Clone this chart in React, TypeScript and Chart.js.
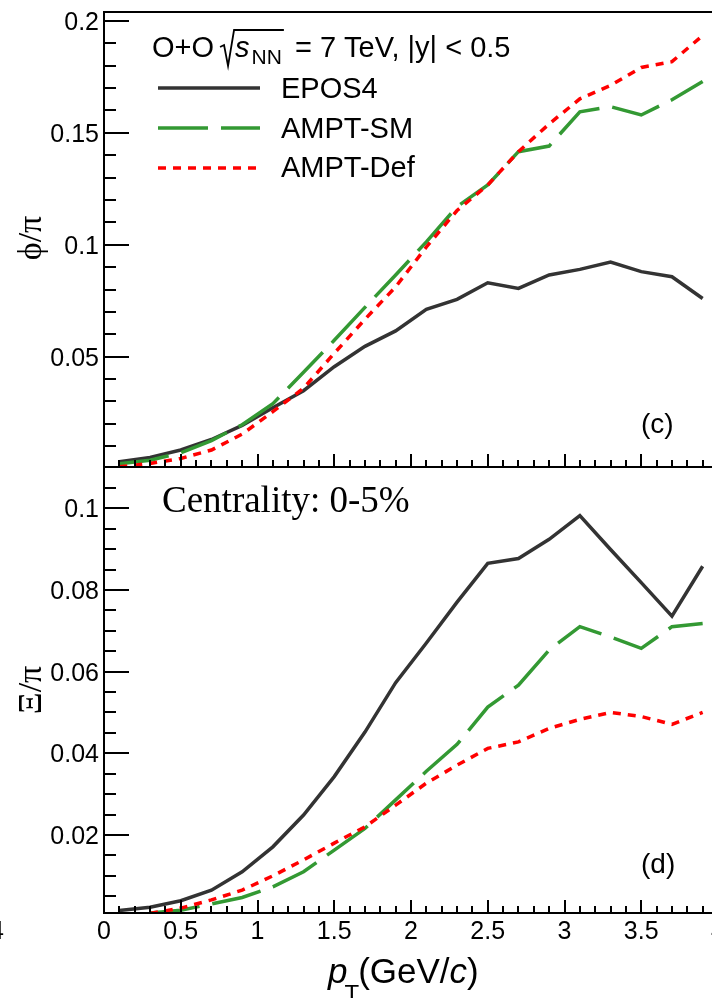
import { useEffect, useRef } from "react";
import { Chart, registerables } from "chart.js";

Chart.register(...registerables);

// transverse momentum bin centres (GeV/c)
const pT = [0.1, 0.3, 0.5, 0.7, 0.9, 1.1, 1.3, 1.5, 1.7, 1.9, 2.1, 2.3, 2.5, 2.7, 2.9, 3.1, 3.3, 3.5, 3.7, 3.9];

// phi/pi ratio, O+O 7 TeV
const phiEPOS4 = [0.003, 0.005, 0.0083, 0.013, 0.0193, 0.0272, 0.0348, 0.0455, 0.0546, 0.0615, 0.0711, 0.0756, 0.083, 0.0805, 0.0865, 0.089, 0.0923, 0.088, 0.0857, 0.076];
const phiAMPTSM = [0.0022, 0.0037, 0.007, 0.0125, 0.0196, 0.029, 0.043, 0.0573, 0.072, 0.0865, 0.1013, 0.117, 0.1267, 0.1416, 0.1441, 0.1594, 0.1617, 0.158, 0.1648, 0.173];
const phiAMPTDef = [0.0008, 0.0023, 0.0045, 0.0083, 0.0154, 0.0254, 0.0359, 0.0515, 0.0667, 0.0812, 0.099, 0.1153, 0.1267, 0.1416, 0.154, 0.1652, 0.1712, 0.1792, 0.1818, 0.1935];

// Xi/pi ratio, centrality 0-5%
const xiEPOS4 = [0.0015, 0.0023, 0.0039, 0.0065, 0.011, 0.0171, 0.0249, 0.0343, 0.0452, 0.0573, 0.067, 0.077, 0.0865, 0.0877, 0.0924, 0.0982, 0.0899, 0.0818, 0.0736, 0.0858];
const xiAMPTSM = [null, 0.0009, 0.0016, 0.0031, 0.0047, 0.0073, 0.011, 0.0163, 0.0216, 0.0286, 0.0356, 0.0422, 0.0513, 0.0567, 0.0653, 0.071, 0.0685, 0.0657, 0.071, 0.0718];
const xiAMPTDef = [null, 0.0008, 0.0021, 0.0041, 0.0065, 0.01, 0.0139, 0.018, 0.022, 0.0273, 0.0327, 0.0371, 0.0412, 0.0428, 0.0461, 0.0483, 0.05, 0.049, 0.0471, 0.05];

// axis ticks
const xTickValues = [0, 0.5, 1, 1.5, 2, 2.5, 3, 3.5, 4];
const xTickLabels = ["0", "0.5", "1", "1.5", "2", "2.5", "3", "3.5", "4"];
const phiTickValues = [0.05, 0.1, 0.15, 0.2];
const phiTickLabels = ["0.05", "0.1", "0.15", "0.2"];
const xiTickValues = [0.02, 0.04, 0.06, 0.08, 0.1];
const xiTickLabels = ["0.02", "0.04", "0.06", "0.08", "0.1"];

const seriesNames = ["EPOS4", "AMPT-SM", "AMPT-Def"];

const SANS = '"Liberation Sans", Arial, Helvetica, sans-serif';
const SERIF = '"Liberation Serif", "Times New Roman", serif';

const COLORS = ["#333333", "#339933", "#ff0000"];
const DASHES: number[][] = [[], [50, 13], [8, 7]];
const LINE_W = 3.5;

const CANVAS_W = 740;
const PLOT_LEFT = 104;
const PLOT_RIGHT = 718;

function makeDatasets(ys: (number | null)[][]) {
  return ys.map((vals, i) => ({
    label: seriesNames[i],
    data: pT.map((x, j) => ({ x, y: vals[j] })),
    borderColor: COLORS[i],
    borderWidth: LINE_W,
    borderDash: DASHES[i],
    borderCapStyle: "butt" as const,
    pointRadius: 0,
    fill: false,
    tension: 0,
    order: 2 - i,
  }));
}

type FrameOpts = { yMinor: number; yRatio: number; topBorder: boolean };

function drawFrame(chart: any, o: FrameOpts) {
  const { ctx, chartArea: a } = chart;
  const xs = chart.scales.x;
  const ys = chart.scales.y;
  ctx.save();
  ctx.strokeStyle = "#000";
  ctx.lineWidth = 2;
  ctx.setLineDash([]);
  ctx.beginPath();
  if (o.topBorder) {
    ctx.moveTo(a.right, a.top);
    ctx.lineTo(a.left, a.top);
  } else {
    ctx.moveTo(a.left, a.top);
  }
  ctx.lineTo(a.left, a.bottom);
  ctx.lineTo(a.right, a.bottom);
  ctx.lineTo(a.right, a.top);
  ctx.stroke();

  ctx.beginPath();
  const nY = Math.floor(ys.max / o.yMinor + 1e-6);
  for (let k = 1; k <= nY; k++) {
    const v = k * o.yMinor;
    if (v <= ys.min || v >= ys.max - o.yMinor * 0.05) continue;
    const py = Math.round(ys.getPixelForValue(v));
    const len = k % o.yRatio === 0 ? 25 : 12;
    ctx.moveTo(a.left, py);
    ctx.lineTo(a.left + len, py);
  }
  for (let k = 1; k < 40; k++) {
    const px = Math.round(xs.getPixelForValue(k * 0.1));
    const len = k % 5 === 0 ? 13 : 7;
    ctx.moveTo(px, a.bottom);
    ctx.lineTo(px, a.bottom - len);
  }
  ctx.stroke();
  ctx.restore();
}

function drawYLabels(chart: any, values: number[], labels: string[]) {
  const { ctx } = chart;
  const ys = chart.scales.y;
  ctx.save();
  ctx.fillStyle = "#000";
  ctx.font = `25px ${SANS}`;
  ctx.textAlign = "right";
  ctx.textBaseline = "alphabetic";
  values.forEach((v, i) => ctx.fillText(labels[i], 99, ys.getPixelForValue(v) + 9));
  ctx.restore();
}

function drawYTitle(ctx: CanvasRenderingContext2D, text: string, cx: number, cy: number) {
  ctx.save();
  ctx.fillStyle = "#000";
  ctx.translate(cx, cy);
  ctx.rotate(-Math.PI / 2);
  ctx.font = `34px ${SERIF}`;
  ctx.textAlign = "center";
  ctx.textBaseline = "middle";
  ctx.fillText(text, 0, 0);
  ctx.restore();
}

const topDecor = {
  id: "topDecor",
  afterDraw(chart: any) {
    const { ctx } = chart;
    drawFrame(chart, { yMinor: 0.01, yRatio: 5, topBorder: true });
    drawYLabels(chart, phiTickValues, phiTickLabels);
    drawYTitle(ctx, "\u03D5/\u03C0", 32, 238);

    ctx.save();
    ctx.fillStyle = "#000";
    ctx.strokeStyle = "#000";
    ctx.textBaseline = "alphabetic";
    ctx.textAlign = "left";

    // collision system header
    const base = 57;
    let x = 152;
    ctx.font = `29px ${SANS}`;
    ctx.fillText("O+O", x, base);
    x += ctx.measureText("O+O").width + 6;
    const r0 = x;
    ctx.font = `italic 29px ${SANS}`;
    const sx = r0 + 15;
    ctx.fillText("s", sx, base);
    let ex = sx + ctx.measureText("s").width + 2;
    ctx.font = `21px ${SANS}`;
    ctx.fillText("NN", ex, base + 7);
    ex += ctx.measureText("NN").width;
    ctx.lineWidth = 1.8;
    ctx.beginPath();
    ctx.moveTo(r0, base - 10);
    ctx.lineTo(r0 + 4, base - 12);
    ctx.lineTo(r0 + 8, base + 9);
    ctx.lineTo(r0 + 14, base - 27);
    ctx.lineTo(ex + 2, base - 27);
    ctx.stroke();
    ctx.font = `29px ${SANS}`;
    ctx.fillText(" = 7 TeV, |y| < 0.5", ex + 5, base);

    // legend
    const rowY = [88, 128, 168];
    const rowBase = [98, 138, 177];
    seriesNames.forEach((name, i) => {
      ctx.save();
      ctx.strokeStyle = COLORS[i];
      ctx.lineWidth = LINE_W;
      ctx.setLineDash(DASHES[i]);
      ctx.beginPath();
      ctx.moveTo(158, rowY[i]);
      ctx.lineTo(260, rowY[i]);
      ctx.stroke();
      ctx.restore();
      ctx.font = `29px ${SANS}`;
      ctx.fillText(name, 281, rowBase[i]);
    });

    ctx.font = `28px ${SANS}`;
    ctx.fillText("(c)", 641, 433);
    ctx.restore();
  },
};

const bottomDecor = {
  id: "bottomDecor",
  afterDraw(chart: any) {
    const { ctx, chartArea: a } = chart;
    const xs = chart.scales.x;
    drawFrame(chart, { yMinor: 0.005, yRatio: 4, topBorder: true });
    drawYLabels(chart, xiTickValues, xiTickLabels);
    drawYTitle(ctx, "\u039E/\u03C0", 32, 230);

    ctx.save();
    ctx.fillStyle = "#000";
    ctx.textBaseline = "alphabetic";

    // x tick labels
    ctx.font = `25px ${SANS}`;
    ctx.textAlign = "center";
    const lblBase = a.bottom + 26;
    xTickValues.forEach((v, i) => ctx.fillText(xTickLabels[i], xs.getPixelForValue(v), lblBase));
    // neighbouring panel's last label peeking in at the left edge
    ctx.fillText("4", -3, lblBase);

    // x title: p_T (GeV/c)
    ctx.textAlign = "left";
    const tBase = a.bottom + 70;
    let tx = 328;
    ctx.font = `italic 35px ${SANS}`;
    ctx.fillText("p", tx, tBase);
    tx += ctx.measureText("p").width - 3;
    ctx.font = `24px ${SANS}`;
    ctx.fillText("T", tx, tBase + 19);
    tx += ctx.measureText("T").width - 1;
    ctx.font = `35px ${SANS}`;
    ctx.fillText("(GeV/", tx, tBase);
    tx += ctx.measureText("(GeV/").width;
    ctx.font = `italic 35px ${SANS}`;
    ctx.fillText("c", tx, tBase);
    tx += ctx.measureText("c").width;
    ctx.font = `35px ${SANS}`;
    ctx.fillText(")", tx, tBase);

    // annotations
    ctx.font = `37px ${SERIF}`;
    ctx.fillText("Centrality: 0-5%", 162, 52);
    ctx.font = `28px ${SANS}`;
    ctx.fillText("(d)", 641, 413);
    ctx.restore();
  },
};

function baseOptions(yMin: number, yMax: number, padding: any) {
  return {
    responsive: false,
    animation: false as const,
    devicePixelRatio: 1,
    events: [] as any[],
    layout: { padding },
    scales: {
      x: { type: "linear" as const, min: 0, max: 4, display: false },
      y: { type: "linear" as const, min: yMin, max: yMax, display: false },
    },
    plugins: { legend: { display: false }, tooltip: { enabled: false }, title: { display: false } },
    elements: { point: { radius: 0 }, line: { tension: 0 } },
  };
}

export default function App() {
  const topRef = useRef<HTMLCanvasElement>(null);
  const botRef = useRef<HTMLCanvasElement>(null);

  useEffect(() => {
    const top = new Chart(topRef.current!, {
      type: "line",
      data: { datasets: makeDatasets([phiEPOS4, phiAMPTSM, phiAMPTDef]) as any },
      options: baseOptions(0.0007, 0.204, { left: PLOT_LEFT, right: CANVAS_W - PLOT_RIGHT, top: 12, bottom: 13 }) as any,
      plugins: [topDecor],
    });
    const bottom = new Chart(botRef.current!, {
      type: "line",
      data: { datasets: makeDatasets([xiEPOS4, xiAMPTSM, xiAMPTDef]) as any },
      options: baseOptions(0.0009, 0.1101, { left: PLOT_LEFT, right: CANVAS_W - PLOT_RIGHT, top: 7, bottom: 85 }) as any,
      plugins: [bottomDecor],
    });
    return () => {
      top.destroy();
      bottom.destroy();
    };
  }, []);

  return (
    <div style={{ position: "fixed", left: 0, top: 0, width: 712, height: 998, overflow: "hidden", background: "#fff" }}>
      <canvas ref={topRef} width={CANVAS_W} height={480} style={{ position: "absolute", left: 0, top: 0 }} />
      <canvas ref={botRef} width={CANVAS_W} height={538} style={{ position: "absolute", left: 0, top: 460 }} />
    </div>
  );
}
